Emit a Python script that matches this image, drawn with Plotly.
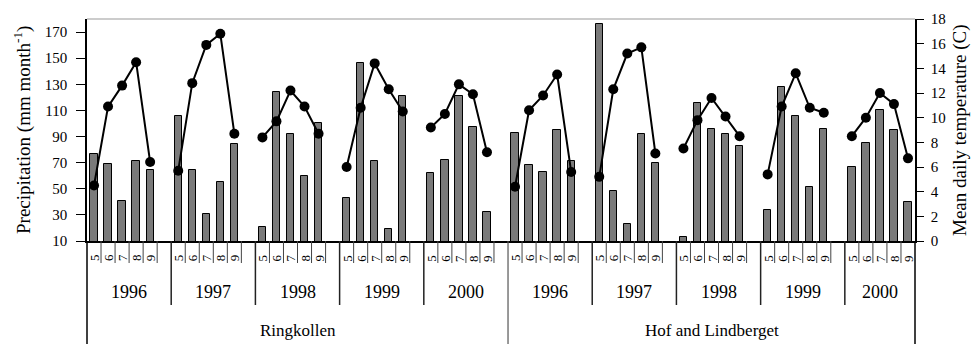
import plotly.graph_objects as go

# ---------------- data ----------------
sites = ["Ringkollen", "Hof and Lindberget"]
years = ["1996", "1997", "1998", "1999", "2000"]
months = ["5", "6", "7", "8", "9"]

precip_ringkollen = [
    [77, 69, 41, 71, 64],
    [106, 64, 31, 55, 84],
    [21, 124, 92, 60, 100],
    [43, 146, 71, 19, 121],
    [62, 72, 121, 97, 32],
]
precip_hof = [
    [93, 68, 63, 95, 71],
    [176, 48, 23, 92, 70],
    [13, 116, 96, 92, 83],
    [34, 128, 106, 51, 96],
    [67, 85, 110, 95, 40],
]
temp_ringkollen = [
    [4.5, 10.9, 12.6, 14.5, 6.4],
    [5.7, 12.8, 15.9, 16.8, 8.7],
    [8.4, 9.7, 12.2, 10.9, 8.7],
    [6.0, 10.8, 14.4, 12.3, 10.5],
    [9.2, 10.3, 12.7, 11.9, 7.2],
]
temp_hof = [
    [4.4, 10.6, 11.8, 13.5, 5.6],
    [5.2, 12.3, 15.2, 15.7, 7.1],
    [7.5, 9.8, 11.6, 10.1, 8.5],
    [5.4, 10.9, 13.6, 10.8, 10.4],
    [8.5, 10.0, 12.0, 11.1, 6.7],
]

precip_by_site = [precip_ringkollen, precip_hof]
temp_by_site = [temp_ringkollen, temp_hof]

left_ticks = [10, 30, 50, 70, 90, 110, 130, 150, 170]
right_ticks = [0, 2, 4, 6, 8, 10, 12, 14, 16, 18]

# ---------------- build category sequence ----------------
cats, precip, temp = [], [], []
groups = []  # (site index, year, start index)
n_groups = len(sites) * len(years)
g = 0
for si, site in enumerate(sites):
    for yi, yr in enumerate(years):
        start = len(cats)
        for mi, m in enumerate(months):
            cats.append(f"{site}|{yr}|{m}")
            precip.append(precip_by_site[si][yi][mi])
            temp.append(temp_by_site[si][yi][mi])
        g += 1
        if g < n_groups:
            cats.append(f"{site}|{yr}|gap")
            precip.append(None)
            temp.append(None)
        groups.append((si, yr, start))

N = len(cats)
group_edges = [st - 0.5 for (_, _, st) in groups] + [N - 0.5]

FONT = "Liberation Serif"
T, B, L, R = 19, 103, 87, 65
H = 344 - T - B


def py(px):  # pixels below the x axis -> paper y
    return -px / H


fig = go.Figure()
fig.add_trace(go.Bar(
    x=cats, y=precip, width=0.52,
    marker=dict(color="#7a7a7a", line=dict(color="black", width=1)),
    showlegend=False,
))
fig.add_trace(go.Scatter(
    x=cats, y=temp, yaxis="y2", mode="lines+markers",
    line=dict(color="black", width=2),
    marker=dict(color="black", size=10),
    connectgaps=False, showlegend=False,
))

shapes = []
annotations = []

# month tick marks and labels
for gi, (si, yr, st) in enumerate(groups):
    for k in range(len(months)):
        annotations.append(dict(
            x=st + k, y=py(17), xref="x", yref="paper", text=months[k],
            textangle=-90, showarrow=False, xanchor="center", yanchor="middle",
            font=dict(family=FONT, size=13, color="black"),
        ))
        bx = st + k + 0.5
        if bx < group_edges[gi + 1] - 0.01:
            shapes.append(dict(type="line", xref="x", yref="paper",
                               x0=bx, x1=bx, y0=0, y1=py(22),
                               line=dict(color="#444", width=1)))
    # year label
    annotations.append(dict(
        x=(group_edges[gi] + group_edges[gi + 1]) / 2, y=py(51),
        xref="x", yref="paper", text=yr, showarrow=False,
        xanchor="center", yanchor="middle",
        font=dict(family=FONT, size=18, color="black"),
    ))

# group dividers
n_years = len(years)
for i, e in enumerate(group_edges):
    site_edge = (i % n_years == 0)
    if i == 0 or i == len(group_edges) - 1:
        shapes.append(dict(type="line", xref="paper", yref="paper",
                           x0=0 if i == 0 else 1, x1=0 if i == 0 else 1,
                           y0=0, y1=py(B + 2),
                           line=dict(color="black", width=1.5)))
    else:
        shapes.append(dict(type="line", xref="x", yref="paper",
                           x0=e, x1=e, y0=0, y1=py(B + 2) if site_edge else py(64),
                           line=dict(color="#222" if not site_edge else "#555",
                                     width=1.5 if not site_edge else 1.2)))

# site labels
for si, site in enumerate(sites):
    a = group_edges[si * n_years]
    b = group_edges[(si + 1) * n_years]
    annotations.append(dict(
        x=(a + b) / 2, y=py(89), xref="x", yref="paper", text=site,
        showarrow=False, xanchor="center", yanchor="middle",
        font=dict(family=FONT, size=17, color="black"),
    ))

# top border
shapes.append(dict(type="line", xref="paper", yref="paper", x0=0, x1=1, y0=1, y1=1,
                   line=dict(color="#999", width=1.2)))

# axis titles
annotations.append(dict(
    x=-(L - 22) / (980 - L - R), y=0.5, xref="paper", yref="paper",
    text="Precipitation (mm month<sup>-1</sup>)", textangle=-90, showarrow=False,
    xanchor="center", yanchor="middle",
    font=dict(family=FONT, size=19, color="black"),
))
annotations.append(dict(
    x=1 + (960 - (980 - R)) / (980 - L - R), y=0.5, xref="paper", yref="paper",
    text="Mean daily temperature (C)", textangle=-90, showarrow=False,
    xanchor="center", yanchor="middle",
    font=dict(family=FONT, size=19, color="black"),
))

fig.update_layout(
    width=980, height=344,
    margin=dict(l=L, r=R, t=T, b=B, pad=0),
    paper_bgcolor="white", plot_bgcolor="white",
    bargap=0,
    font=dict(family=FONT, color="black"),
    shapes=shapes, annotations=annotations,
    xaxis=dict(
        type="category", categoryorder="array", categoryarray=cats,
        range=[-0.5, N - 0.5], showticklabels=False, ticks="",
        showline=True, linecolor="black", linewidth=1.5,
        showgrid=False, zeroline=False, fixedrange=True,
    ),
    yaxis=dict(
        range=[10, 180], tickvals=left_ticks, ticks="outside", ticklen=9,
        tickcolor="black", tickwidth=1, ticklabelstandoff=6,
        showline=True, linecolor="black", linewidth=1.5,
        showgrid=False, zeroline=False,
        tickfont=dict(family=FONT, size=15, color="black"),
    ),
    yaxis2=dict(
        range=[0, 18], tickvals=right_ticks, overlaying="y", side="right",
        ticks="outside", ticklen=7, tickcolor="black", tickwidth=1,
        ticklabelstandoff=4,
        showline=True, linecolor="black", linewidth=1.5,
        showgrid=False, zeroline=False,
        tickfont=dict(family=FONT, size=15, color="black"),
    ),
)

fig.write_html("out.html")
